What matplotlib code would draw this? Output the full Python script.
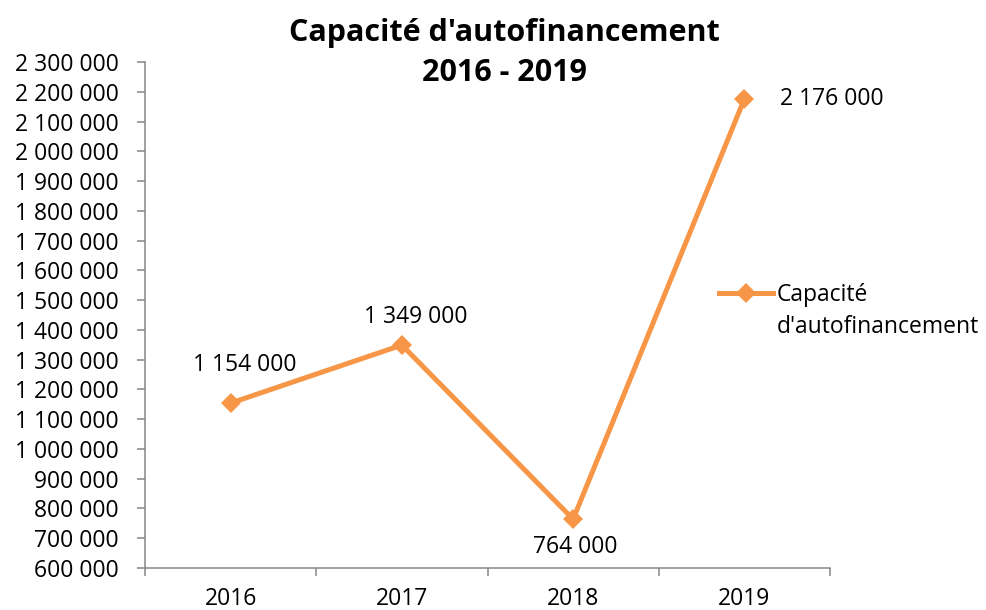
import matplotlib.pyplot as plt
from matplotlib.lines import Line2D
from matplotlib.ticker import FuncFormatter, FixedLocator
import numpy as np

plt.rcParams['font.family'] = ['Open Sans', 'DejaVu Sans']

annees = ['2016', '2017', '2018', '2019']
caf = [1154000, 1349000, 764000, 2176000]
# décalage des étiquettes (pixels), placées à la main comme dans Excel
label_offsets = [(14, 38), (14, 28), (2, -28), (87, 0)]

orange = '#F79646'
gris = '#868686'
fs = 16.5

fig = plt.figure(figsize=(9.86, 6.10), dpi=100)
ax = fig.add_axes([145 / 986, 42 / 610, 685 / 986, 506 / 610])

x = np.arange(len(annees))
ax.plot(x, caf, color=orange, lw=3.6, marker='D', ms=10, mew=0,
        solid_joinstyle='miter')

for xi, v, (dx, dy) in zip(x, caf, label_offsets):
    ax.annotate(f"{v:,.0f}".replace(",", " "), (xi, v),
                xytext=(dx * 0.72, dy * 0.72), textcoords='offset points',
                ha='center', va='center', fontsize=fs)

ax.set_xlim(-0.5, len(annees) - 0.5)
ax.set_ylim(600000, 2300000)
ax.set_yticks(np.arange(600000, 2300001, 100000))
ax.yaxis.set_major_formatter(FuncFormatter(lambda v, p: f"{v:,.0f}".replace(",", " ")))
ax.set_xticks(x)
ax.set_xticklabels(annees)
ax.xaxis.set_minor_locator(FixedLocator(np.arange(-0.5, len(annees), 1.0)))

for s in ['top', 'right']:
    ax.spines[s].set_visible(False)
for s in ['left', 'bottom']:
    ax.spines[s].set_color(gris)
    ax.spines[s].set_linewidth(1.1)

ax.tick_params(axis='y', which='major', length=5.8, width=1.1, color=gris,
               pad=13, labelsize=fs)
ax.tick_params(axis='x', which='major', length=0, pad=14, labelsize=fs)
ax.tick_params(axis='x', which='minor', length=5.8, width=1.1, color=gris)

fig.text(504 / 986, 1 - 53 / 610, "Capacité d'autofinancement\n2016 - 2019",
         ha='center', va='center', fontsize=22, fontweight='bold',
         linespacing=1.42)

handles = [Line2D([], [], color=orange, lw=3.6, marker='D', ms=10, mew=0),
           Line2D([], [], linestyle='none')]
fig.legend(handles, ['Capacité', "d'autofinancement"],
           loc='upper left', bbox_to_anchor=(719 / 986, 1 - 283 / 610),
           frameon=False, fontsize=fs, handlelength=2.35,
           handletextpad=0.15, borderpad=0, borderaxespad=0,
           labelspacing=0.35)

fig.savefig('out.png', dpi=100)
